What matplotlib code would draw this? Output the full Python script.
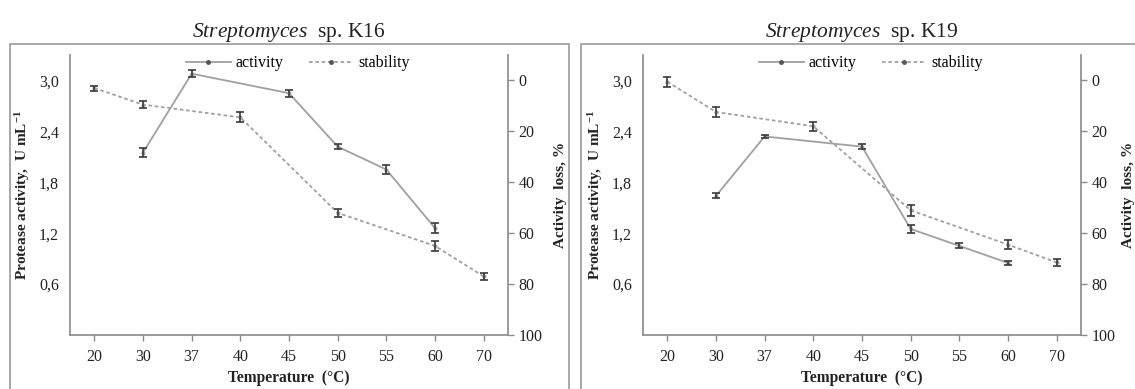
import numpy as np
import matplotlib
matplotlib.use("Agg")
import matplotlib.pyplot as plt
from matplotlib.patches import Rectangle
from matplotlib.lines import Line2D
from matplotlib.ticker import FuncFormatter

plt.rcParams["font.family"] = ["Liberation Serif", "DejaVu Serif"]
plt.rcParams["mathtext.fontset"] = "custom"
plt.rcParams["mathtext.it"] = "Liberation Serif:italic"
plt.rcParams["mathtext.rm"] = "Liberation Serif"
plt.rcParams["mathtext.default"] = "regular"

temps = ["20", "30", "37", "40", "45", "50", "55", "60", "70"]

# K16: activity (U/mL) and stability (activity loss, %)
k16_act = [np.nan, 2.15, 3.08, np.nan, 2.85, 2.22, 1.95, 1.26, np.nan]
k16_act_err = [0, 0.05, 0.04, 0, 0.04, 0.03, 0.05, 0.06, 0]
k16_loss = [3.0, 9.5, np.nan, 14.5, np.nan, 52.0, np.nan, 65.0, 77.0]
k16_loss_err = [1.0, 1.5, 0, 2.0, 0, 1.5, 0, 2.0, 1.5]

# K19
k19_act = [np.nan, 1.64, 2.34, np.nan, 2.22, 1.25, 1.05, 0.85, np.nan]
k19_act_err = [0, 0.03, 0.02, 0, 0.03, 0.05, 0.03, 0.02, 0]
k19_loss = [0.5, 12.4, np.nan, 18.0, np.nan, 51.0, np.nan, 64.5, 71.5]
k19_loss_err = [2.0, 1.8, 0, 1.8, 0, 2.2, 0, 1.8, 1.2]

line_col = "#a0a0a0"
err_col = "#3a3a3a"
spine_col = "#8a8a8a"
text_col = "#222222"

fig = plt.figure(figsize=(11.35, 3.89), dpi=100)

# outer frames
fig.add_artist(Rectangle((10 / 1135, -0.1), (569 - 10) / 1135, 1.1 - 44 / 389,
                         transform=fig.transFigure, fill=False, ec="#999999", lw=1.2))
fig.add_artist(Rectangle((581 / 1135, -0.1), 0.6, 1.1 - 44 / 389,
                         transform=fig.transFigure, fill=False, ec="#999999", lw=1.2))


def draw_panel(left_px, name, act, act_err, loss, loss_err, rpad):
    ax = fig.add_axes([left_px / 1135, 1 - 335 / 389, 438 / 1135, 280 / 389])
    ax2 = ax.twinx()
    x = np.arange(len(temps))

    a = np.array(act, dtype=float)
    m = ~np.isnan(a)
    ax.plot(x[m], a[m], "-", color=line_col, lw=1.3, marker="o", ms=2, zorder=2)
    ax.errorbar(x[m], a[m], yerr=np.array(act_err)[m], fmt="none", ecolor=err_col,
                elinewidth=1.2, capsize=3, capthick=1.2, zorder=3)

    s = np.array(loss, dtype=float)
    m2 = ~np.isnan(s)
    ax2.plot(x[m2], s[m2], color=line_col, lw=1.3, ls=(0, (2, 1.5)), marker="o",
             ms=2, zorder=2)
    ax2.errorbar(x[m2], s[m2], yerr=np.array(loss_err)[m2], fmt="none", ecolor=err_col,
                 elinewidth=1.2, capsize=3, capthick=1.2, zorder=3)

    ax.set_xlim(-0.5, 8.5)
    ax.set_ylim(0, 3.3)
    ax2.set_ylim(100, -10)
    ax.set_xticks(x)
    ax.set_xticklabels(temps)
    ax.set_yticks([0.6, 1.2, 1.8, 2.4, 3.0])
    ax.yaxis.set_major_formatter(FuncFormatter(lambda v, p: f"{v:.1f}".replace(".", ",")))
    ax2.set_yticks([0, 20, 40, 60, 80, 100])

    for a_ in (ax, ax2):
        a_.spines["top"].set_visible(False)
        for sp in a_.spines.values():
            sp.set_color(spine_col)
            sp.set_linewidth(1.2)
        a_.tick_params(colors=spine_col, labelcolor=text_col, labelsize=11.5,
                       length=4, width=1)
    ax.spines["right"].set_visible(False)
    ax2.spines["left"].set_visible(False)
    ax2.spines["bottom"].set_visible(False)
    ax.tick_params(axis="y", length=0, pad=8)
    ax.tick_params(axis="x", pad=6)

    ax.set_xlabel("Temperature  (°C)", fontsize=11.2, fontweight="bold",
                  color=text_col, labelpad=4)
    ax.set_ylabel("Protease activity,  U mL$^{-1}$", fontsize=11,
                  fontweight="bold", color=text_col, labelpad=5)
    ax2.set_ylabel("Activity  loss, %", fontsize=11, fontweight="bold",
                   color=text_col, rotation=90, labelpad=rpad)
    ax.set_title("$\\mathit{Streptomyces}$  sp. " + name, fontsize=15.5,
                 color=text_col, pad=13)

    handles = [
        Line2D([], [], color=line_col, lw=1.3, marker="o", ms=2.5, mfc="#555555",
               mec="#555555"),
        Line2D([], [], color=line_col, lw=1.3, ls=(0, (2, 1.5)), marker="o",
               ms=2.5, mfc="#555555", mec="#555555"),
    ]
    ax.legend(handles, ["activity", "stability"], loc="upper center",
              bbox_to_anchor=(0.52, 1.05), ncol=2, frameon=False, fontsize=11.5,
              handlelength=2.8, columnspacing=1.6, handletextpad=0.3)
    return ax


draw_panel(70, "K16", k16_act, k16_act_err, k16_loss, k16_loss_err, 8)
draw_panel(643, "K19", k19_act, k19_act_err, k19_loss, k19_loss_err, 5)

plt.savefig("out.png", dpi=100)
